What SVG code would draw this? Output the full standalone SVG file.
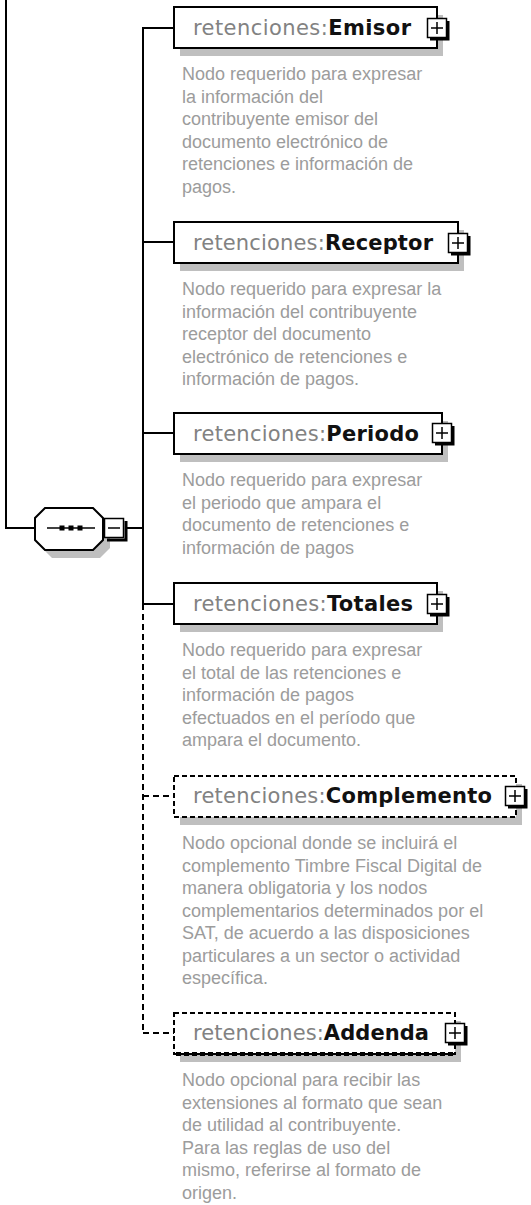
<svg xmlns="http://www.w3.org/2000/svg" xmlns:xlink="http://www.w3.org/1999/xlink" width="531" height="1205" viewBox="0 0 531 1205">
<style>
.ln{stroke:#000;stroke-width:2;fill:none}
.dsh{stroke-dasharray:6 4}
.box{fill:#fff;stroke:#000;stroke-width:2}
.dbox{fill:#fff;stroke:#000;stroke-width:2;stroke-dasharray:5 3}
.sh{fill:#bfbfbf}
.ttl{font-family:"DejaVu Sans",Verdana,sans-serif;font-size:21px;fill:#828282}
.nm{font-weight:bold;fill:#111}
.desc{font-family:"Liberation Sans",Arial,sans-serif;font-size:18px;fill:#9c9c9c}
</style>
<defs>
<g id="plus">
<path d="M11 -7 V11 H-7" stroke="#000" stroke-width="3" fill="none"/>
<rect x="-9.5" y="-9.5" width="19" height="19" fill="#fff" stroke="#000" stroke-width="1.5"/>
<path d="M-6 0 H6 M0 -6 V6" stroke="#000" stroke-width="1.5"/>
</g>
</defs>
<g id="connectors">
<path class="ln" d="M6 0 V528 H35"/>
<path class="ln" d="M127 528 H143"/>
<path class="ln" d="M174 28 H143 V604"/>
<path class="ln" d="M143 242 H174 M143 433 H174 M143 604 H174"/>
<path class="ln dsh" d="M143 604 V1033 M143 796 H174 M143 1033 H174"/>
</g>
<g id="sequence">
<polygon class="sh" points="52,516 100,516 110,526 110,548 100,558 52,558 42,548 42,526"/>
<polygon class="box" points="45,508 93,508 103,518 103,540 93,550 45,550 35,540 35,518"/>
<path d="M47 528 H95" stroke="#000" stroke-width="1.5"/>
<rect x="59.5" y="525.5" width="5" height="5" fill="#000"/>
<rect x="68.5" y="525.5" width="5" height="5" fill="#000"/>
<rect x="77.5" y="525.5" width="5" height="5" fill="#000"/>
<path d="M126 521 V540 H107" stroke="#000" stroke-width="3" fill="none"/>
<rect x="104.5" y="518.5" width="19" height="19" fill="#fff" stroke="#000" stroke-width="1.5"/>
<path d="M108 528 H120" stroke="#000" stroke-width="1.5"/>
</g>
<g id="emisor">
<rect class="sh" x="180" y="15" width="263" height="41"/>
<rect class="box" x="174" y="7" width="263" height="41"/>
<text class="ttl" x="193" y="35" textLength="218" lengthAdjust="spacing">retenciones:<tspan class="nm">Emisor</tspan></text>
<use xlink:href="#plus" x="437" y="28"/>
<text class="desc"><tspan x="182" y="80">Nodo requerido para expresar</tspan><tspan x="182" y="102.5">la información del</tspan><tspan x="182" y="125">contribuyente emisor del</tspan><tspan x="182" y="147.5">documento electrónico de</tspan><tspan x="182" y="170">retenciones e información de</tspan><tspan x="182" y="192.5">pagos.</tspan></text>
</g>
<g id="receptor">
<rect class="sh" x="180" y="230" width="284" height="41"/>
<rect class="box" x="174" y="222" width="284" height="41"/>
<text class="ttl" x="193" y="250" textLength="240" lengthAdjust="spacing">retenciones:<tspan class="nm">Receptor</tspan></text>
<use xlink:href="#plus" x="458" y="243"/>
<text class="desc"><tspan x="182" y="295">Nodo requerido para expresar la</tspan><tspan x="182" y="317.5">información del contribuyente</tspan><tspan x="182" y="340">receptor del documento</tspan><tspan x="182" y="362.5">electrónico de retenciones e</tspan><tspan x="182" y="385">información de pagos.</tspan></text>
</g>
<g id="periodo">
<rect class="sh" x="180" y="421" width="268" height="41"/>
<rect class="box" x="174" y="413" width="268" height="41"/>
<text class="ttl" x="193" y="441" textLength="226" lengthAdjust="spacing">retenciones:<tspan class="nm">Periodo</tspan></text>
<use xlink:href="#plus" x="442" y="433"/>
<text class="desc"><tspan x="182" y="486">Nodo requerido para expresar</tspan><tspan x="182" y="508.5">el periodo que ampara el</tspan><tspan x="182" y="531">documento de retenciones e</tspan><tspan x="182" y="553.5">información de pagos</tspan></text>
</g>
<g id="totales">
<rect class="sh" x="180" y="591" width="263" height="41"/>
<rect class="box" x="174" y="583" width="263" height="41"/>
<text class="ttl" x="193" y="611" textLength="220" lengthAdjust="spacing">retenciones:<tspan class="nm">Totales</tspan></text>
<use xlink:href="#plus" x="437" y="604"/>
<text class="desc"><tspan x="182" y="656">Nodo requerido para expresar</tspan><tspan x="182" y="678.5">el total de las retenciones e</tspan><tspan x="182" y="701">información de pagos</tspan><tspan x="182" y="723.5">efectuados en el período que</tspan><tspan x="182" y="746">ampara el documento.</tspan></text>
</g>
<g id="complemento">
<rect class="sh" x="180" y="784" width="342" height="41"/>
<rect class="dbox" x="174" y="776" width="342" height="41"/>
<text class="ttl" x="193" y="803" textLength="299" lengthAdjust="spacing">retenciones:<tspan class="nm">Complemento</tspan></text>
<use xlink:href="#plus" x="515" y="796"/>
<text class="desc"><tspan x="182" y="849">Nodo opcional donde se incluirá el</tspan><tspan x="182" y="871.5">complemento Timbre Fiscal Digital de</tspan><tspan x="182" y="894">manera obligatoria y los nodos</tspan><tspan x="182" y="916.5">complementarios determinados por el</tspan><tspan x="182" y="939">SAT, de acuerdo a las disposiciones</tspan><tspan x="182" y="961.5">particulares a un sector o actividad</tspan><tspan x="182" y="984">específica.</tspan></text>
</g>
<g id="addenda">
<rect class="sh" x="180" y="1021" width="281" height="41"/>
<rect class="dbox" x="174" y="1013" width="281" height="41"/>
<path d="M176 1054 H455" stroke="#000" stroke-width="4" stroke-dasharray="5 3"/>
<text class="ttl" x="193" y="1040" textLength="236" lengthAdjust="spacing">retenciones:<tspan class="nm">Addenda</tspan></text>
<use xlink:href="#plus" x="455" y="1033"/>
<text class="desc"><tspan x="182" y="1086">Nodo opcional para recibir las</tspan><tspan x="182" y="1108.5">extensiones al formato que sean</tspan><tspan x="182" y="1131">de utilidad al contribuyente.</tspan><tspan x="182" y="1153.5">Para las reglas de uso del</tspan><tspan x="182" y="1176">mismo, referirse al formato de</tspan><tspan x="182" y="1198.5">origen.</tspan></text>
</g>
</svg>
